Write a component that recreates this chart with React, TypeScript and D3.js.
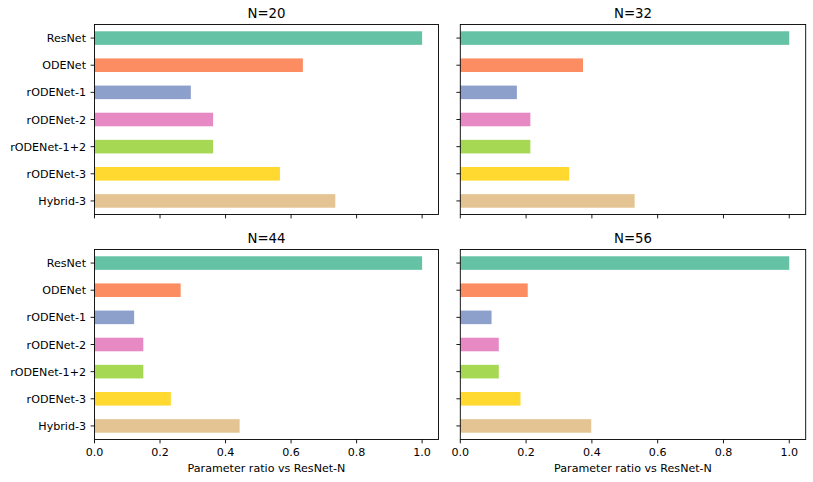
import React from "react";
import * as d3 from "d3";

const categories = ["ResNet", "ODENet", "rODENet-1", "rODENet-2", "rODENet-1+2", "rODENet-3", "Hybrid-3"];
const colors = ["#66c2a5", "#fc8d62", "#8da0cb", "#e78ac3", "#a6d854", "#ffd92f", "#e5c494"];
const titles = ["N=20", "N=32", "N=44", "N=56"];
const valuesN20 = [1.0, 0.636, 0.294, 0.362, 0.362, 0.566, 0.735];
const valuesN32 = [1.0, 0.373, 0.172, 0.213, 0.213, 0.331, 0.53];
const valuesN44 = [1.0, 0.263, 0.121, 0.149, 0.149, 0.233, 0.443];
const valuesN56 = [1.0, 0.205, 0.095, 0.117, 0.117, 0.183, 0.398];
const xTicks = [0, 0.2, 0.4, 0.6, 0.8, 1.0];
const xLabel = "Parameter ratio vs ResNet-N";

const W = 813;
const H = 482;
const FONT = "DejaVu Sans, sans-serif";
const FS = 11.1;
const TFS = 13.3;

type PanelProps = {
  values: number[];
  title: string;
  x0: number;
  x1: number;
  y0: number;
  y1: number;
  showY: boolean;
  showX: boolean;
};

function Panel({ values, title, x0, x1, y0, y1, showY, showX }: PanelProps) {
  const x = d3.scaleLinear().domain([0, 1.05]).range([x0, x1]);
  const y = d3.scaleLinear().domain([-0.5, categories.length - 0.5]).range([y0, y1]);
  const barH = Math.abs(y(0.25) - y(-0.25));
  return (
    <g>
      {values.map((v, i) => (
        <rect
          key={i}
          x={x(0)}
          y={y(i) - barH / 2}
          width={x(v) - x(0)}
          height={barH}
          fill={colors[i]}
        />
      ))}
      <rect x={x0} y={y0} width={x1 - x0} height={y1 - y0} fill="none" stroke="#000" strokeWidth={0.9} />
      {categories.map((c, i) => (
        <g key={c}>
          <line x1={x0 - 3.9} x2={x0} y1={y(i)} y2={y(i)} stroke="#000" strokeWidth={0.9} />
          {showY && (
            <text x={x0 - 8.5} y={y(i) + 4} textAnchor="end" fontSize={FS} fontFamily={FONT} fill="#000">
              {c}
            </text>
          )}
        </g>
      ))}
      {xTicks.map((t) => (
        <g key={t}>
          <line x1={x(t)} x2={x(t)} y1={y1} y2={y1 + 3.9} stroke="#000" strokeWidth={0.9} />
          {showX && (
            <text x={x(t)} y={y1 + 16.8} textAnchor="middle" fontSize={FS} fontFamily={FONT} fill="#000">
              {d3.format(".1f")(t)}
            </text>
          )}
        </g>
      ))}
      {showX && (
        <text x={(x0 + x1) / 2} y={y1 + 32.2} textAnchor="middle" fontSize={FS} fontFamily={FONT} fill="#000">
          {xLabel}
        </text>
      )}
      <text x={(x0 + x1) / 2} y={y0 - 6.5} textAnchor="middle" fontSize={TFS} fontFamily={FONT} fill="#000">
        {title}
      </text>
    </g>
  );
}

export default function App() {
  const L = [94.5, 438.5];
  const R = [460.3, 805.7];
  const T = [24.5, 214.5];
  const B = [249.5, 439.5];
  return (
    <svg width={W} height={H} style={{ position: "absolute", left: 0, top: 0, background: "#fff" }}>
      <rect width={W} height={H} fill="#fff" />
      <Panel values={valuesN20} title={titles[0]} x0={L[0]} x1={L[1]} y0={T[0]} y1={T[1]} showY showX={false} />
      <Panel values={valuesN32} title={titles[1]} x0={R[0]} x1={R[1]} y0={T[0]} y1={T[1]} showY={false} showX={false} />
      <Panel values={valuesN44} title={titles[2]} x0={L[0]} x1={L[1]} y0={B[0]} y1={B[1]} showY showX />
      <Panel values={valuesN56} title={titles[3]} x0={R[0]} x1={R[1]} y0={B[0]} y1={B[1]} showY={false} showX />
    </svg>
  );
}
